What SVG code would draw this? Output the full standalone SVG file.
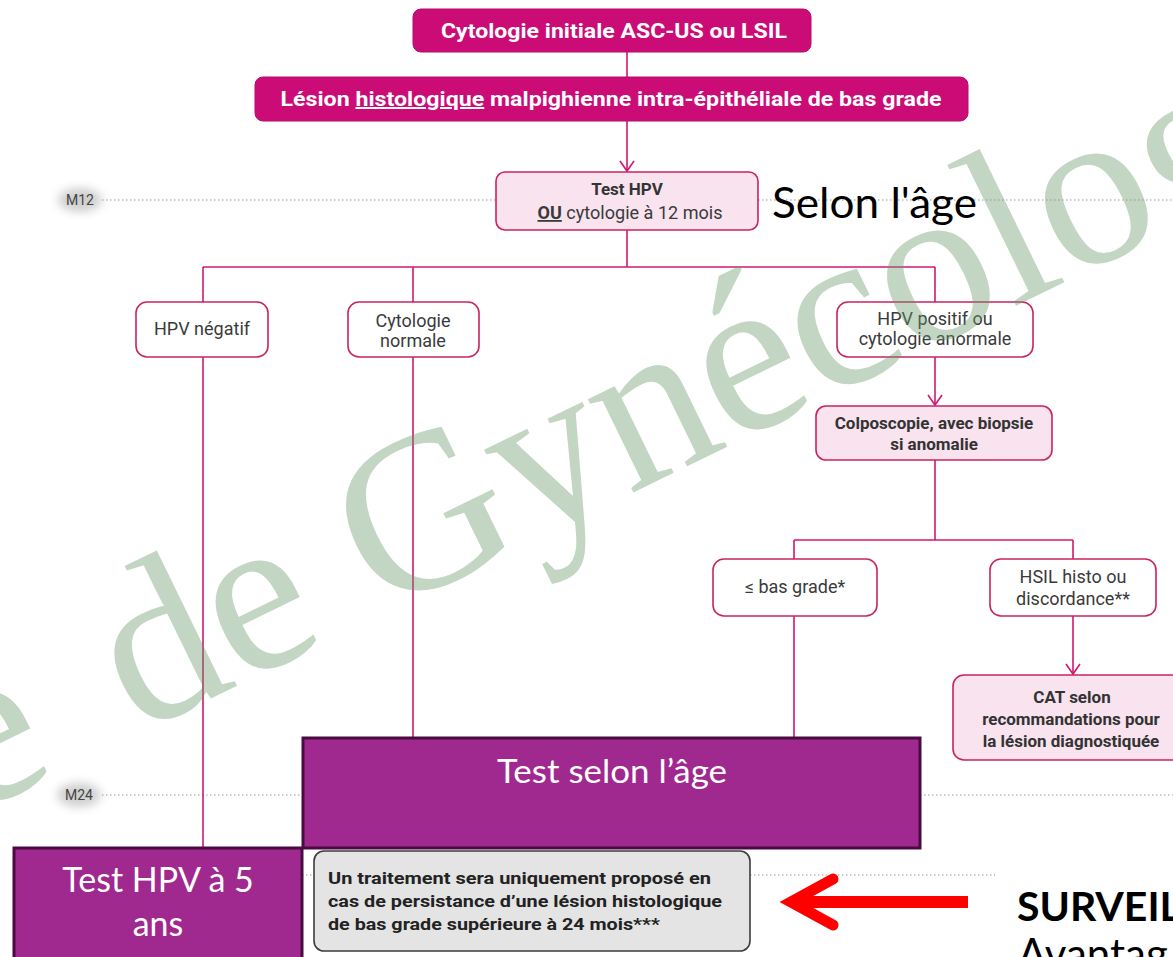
<svg xmlns="http://www.w3.org/2000/svg" width="1173" height="957" viewBox="0 0 1173 957">
<defs>
<style>
.mag{fill:#cb0c77;stroke:#b80a6a;stroke-width:1}
.wht{fill:#ffffff;stroke:#c9245f;stroke-width:1.6}
.pal{fill:#f8e3ee;stroke:#c9245f;stroke-width:1.6}
.pur{fill:#a0298f;stroke:#4a0c40;stroke-width:3}
.gry{fill:#e4e4e4;stroke:#3c3c3c;stroke-width:1.6}
.ln{stroke:#d0186e;stroke-width:1.6;fill:none}
.dot{stroke:#9a9a9a;stroke-width:1.2;stroke-dasharray:1.5 2.5;fill:none}
.tw{font-family:Roboto,"Liberation Sans",sans-serif;font-weight:bold;fill:#ffffff;text-anchor:middle}
.tn{font-family:Roboto,"Liberation Sans",sans-serif;font-size:18px;fill:#3a3a3a;text-anchor:middle}
.tb{font-family:Roboto,"Liberation Sans",sans-serif;font-size:17px;font-weight:bold;fill:#333333;text-anchor:middle}
.tg{font-family:Roboto,"Liberation Sans",sans-serif;font-size:16.5px;font-weight:bold;fill:#222222}
.cal{font-family:Lato,"Open Sans",sans-serif}
.lab{font-family:Roboto,"Liberation Sans",sans-serif;font-size:14px;fill:#444444}
</style>
<marker id="arr" markerUnits="userSpaceOnUse" markerWidth="18" markerHeight="18" refX="11" refY="8" orient="auto">
<path d="M1,1 L11,8 L1,15" fill="none" stroke="#d0186e" stroke-width="1.6"/>
</marker>
<filter id="blur" x="-50%" y="-50%" width="200%" height="200%"><feGaussianBlur stdDeviation="5"/></filter>
</defs>
<rect width="1173" height="957" fill="#ffffff"/>

<g id="timeline">
<ellipse cx="80" cy="200" rx="22" ry="12" fill="#b0b0b0" opacity="0.6" filter="url(#blur)"/>
<text class="lab" x="66" y="205">M12</text>
<line class="dot" x1="102" y1="200" x2="496" y2="200"/>
<line class="dot" x1="758" y1="200" x2="1173" y2="200"/>
<ellipse cx="79" cy="795" rx="22" ry="12" fill="#b0b0b0" opacity="0.6" filter="url(#blur)"/>
<text class="lab" x="65" y="800">M24</text>
<line class="dot" x1="102" y1="795" x2="303" y2="795"/>
<line class="dot" x1="920" y1="795" x2="1173" y2="795"/>
<line class="dot" x1="302" y1="875" x2="314" y2="875"/>
<line class="dot" x1="750" y1="875" x2="995" y2="875"/>
</g>

<g id="connectors">
<line class="ln" x1="627" y1="52" x2="627" y2="77"/>
<line class="ln" x1="627" y1="121" x2="627" y2="171" marker-end="url(#arr)"/>
<line class="ln" x1="627" y1="230" x2="627" y2="267"/>
<line class="ln" x1="203" y1="267" x2="935" y2="267"/>
<line class="ln" x1="203" y1="267" x2="203" y2="302"/>
<line class="ln" x1="413" y1="267" x2="413" y2="302"/>
<line class="ln" x1="935" y1="267" x2="935" y2="302"/>
<line class="ln" x1="935" y1="357" x2="935" y2="405" marker-end="url(#arr)"/>
<line class="ln" x1="935" y1="460" x2="935" y2="540"/>
<line class="ln" x1="794" y1="540" x2="1073" y2="540"/>
<line class="ln" x1="794" y1="540" x2="794" y2="559"/>
<line class="ln" x1="1073" y1="540" x2="1073" y2="559"/>
<line class="ln" x1="1073" y1="616" x2="1073" y2="674" marker-end="url(#arr)"/>
<line class="ln" x1="794" y1="616" x2="794" y2="738"/>
<line class="ln" x1="413" y1="357" x2="413" y2="738"/>
<line class="ln" x1="203" y1="357" x2="203" y2="848"/>
</g>

<g id="n-cyto-initiale">
<rect class="mag" x="413" y="9" width="398" height="43" rx="8"/>
<text class="tw" x="614" y="38" font-size="20" textLength="346" lengthAdjust="spacingAndGlyphs">Cytologie initiale ASC-US ou LSIL</text>
</g>
<g id="n-lesion">
<rect class="mag" x="255" y="77" width="713" height="44" rx="8"/>
<text class="tw" x="611" y="106" font-size="20" textLength="661" lengthAdjust="spacingAndGlyphs">Lésion <tspan text-decoration="underline">histologique</tspan> malpighienne intra-épithéliale de bas grade</text>
</g>
<g id="n-test12">
<rect class="pal" x="496" y="172" width="262" height="58" rx="9"/>
<text class="tb" x="627" y="195" font-size="16">Test HPV</text>
<text class="tn" x="630" y="219" font-size="16" textLength="185" lengthAdjust="spacingAndGlyphs"><tspan font-weight="bold" text-decoration="underline">OU</tspan> cytologie à 12 mois</text>
</g>
<g id="n-selon">
<text class="cal" x="772" y="218" font-size="42" fill="#000000" textLength="205" lengthAdjust="spacingAndGlyphs">Selon l'âge</text>
</g>
<g id="n-hpvneg">
<rect class="wht" x="136" y="302" width="132" height="55" rx="11"/>
<text class="tn" x="202" y="335">HPV négatif</text>
</g>
<g id="n-cytonorm">
<rect class="wht" x="348" y="302" width="131" height="55" rx="11"/>
<text class="tn" x="413" y="327">Cytologie</text>
<text class="tn" x="413" y="347">normale</text>
</g>
<g id="n-hpvpos">
<rect class="wht" x="837" y="302" width="196" height="55" rx="11"/>
<text class="tn" x="935" y="325">HPV positif ou</text>
<text class="tn" x="935" y="345">cytologie anormale</text>
</g>
<g id="n-colpo">
<rect class="pal" x="816" y="406" width="236" height="54" rx="10"/>
<text class="tb" x="934" y="429">Colposcopie, avec biopsie</text>
<text class="tb" x="934" y="450">si anomalie</text>
</g>
<g id="n-basgrade">
<rect class="wht" x="713" y="559" width="164" height="57" rx="11"/>
<text class="tn" x="795" y="593">≤ bas grade*</text>
</g>
<g id="n-hsil">
<rect class="wht" x="990" y="559" width="166" height="57" rx="11"/>
<text class="tn" x="1073" y="583">HSIL histo ou</text>
<text class="tn" x="1073" y="605">discordance**</text>
</g>
<g id="n-cat">
<rect class="pal" x="953" y="675" width="240" height="85" rx="11"/>
<text class="tb" x="1072" y="703">CAT selon</text>
<text class="tb" x="1071" y="725">recommandations pour</text>
<text class="tb" x="1071" y="747">la lésion diagnostiquée</text>
</g>

<g id="watermark" transform="translate(-30,816) rotate(-26)">
<text x="0" y="0" font-family="'Liberation Serif','Times New Roman',serif" font-size="226" fill="rgb(105,152,105)" fill-opacity="0.4">e<tspan dx="30"> de Gynécolog</tspan></text>
</g>

<g id="n-test-age">
<rect class="pur" x="303" y="738" width="617" height="110"/>
<text class="cal" x="497" y="783" font-size="32" fill="#ffffff" textLength="230" lengthAdjust="spacingAndGlyphs">Test selon l’âge</text>
</g>
<g id="n-test5">
<rect class="pur" x="14" y="848" width="288" height="125"/>
<text class="cal" x="158" y="892" font-size="34" fill="#ffffff" text-anchor="middle">Test HPV à 5</text>
<text class="cal" x="158" y="936" font-size="34" fill="#ffffff" text-anchor="middle">ans</text>
</g>
<g id="n-traitement">
<rect class="gry" x="314" y="851" width="436" height="100" rx="10"/>
<text class="tg" x="328" y="884" textLength="383" lengthAdjust="spacingAndGlyphs">Un traitement sera uniquement proposé en</text>
<text class="tg" x="328" y="907" textLength="394" lengthAdjust="spacingAndGlyphs">cas de persistance d’une lésion histologique</text>
<text class="tg" x="328" y="930" textLength="332" lengthAdjust="spacingAndGlyphs">de bas grade supérieure à 24 mois***</text>
</g>

<g id="red-arrow">
<line x1="968" y1="902" x2="792" y2="902" stroke="#ff0000" stroke-width="12"/>
<path d="M833,879 L791,902 L833,925" fill="none" stroke="#ff0000" stroke-width="11" stroke-linecap="round" stroke-linejoin="miter"/>
</g>
<g id="n-surveil">
<text class="cal" x="1017" y="921" font-size="41" font-weight="bold" fill="#000000">SURVEIL</text>
<text class="cal" x="1018" y="969" font-size="42" fill="#000000">Avantag</text>
</g>
</svg>
